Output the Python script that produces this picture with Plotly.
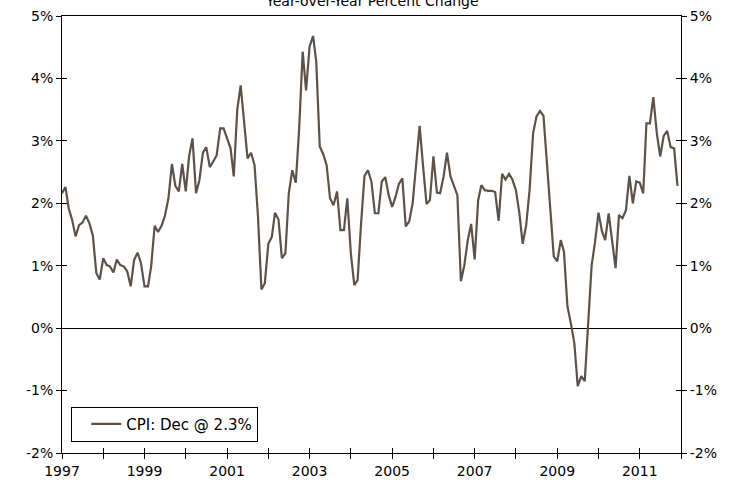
import pandas as pd
import plotly.graph_objects as go

# Monthly year-over-year CPI change (%), Jan 1997 .. Dec 2011
start_month = "1997-01-01"
cpi_yoy = [
    2.16, 2.26, 1.92, 1.73, 1.47, 1.65, 1.69, 1.80, 1.68, 1.48, 0.88, 0.78,   # 1997
    1.12, 1.01, 0.99, 0.89, 1.10, 1.01, 0.99, 0.91, 0.67, 1.09, 1.21, 1.04,   # 1998
    0.67, 0.67, 0.99, 1.64, 1.54, 1.64, 1.80, 2.08, 2.63, 2.28, 2.19, 2.63,   # 1999
    2.19, 2.77, 3.04, 2.16, 2.37, 2.81, 2.90, 2.58, 2.67, 2.77, 3.20, 3.20,   # 2000
    3.04, 2.88, 2.43, 3.50, 3.89, 3.30, 2.72, 2.81, 2.61, 1.80, 0.62, 0.72,   # 2001
    1.35, 1.46, 1.85, 1.74, 1.12, 1.20, 2.16, 2.53, 2.33, 3.20, 4.43, 3.81,   # 2002
    4.51, 4.68, 4.27, 2.91, 2.79, 2.61, 2.08, 1.97, 2.19, 1.57, 1.57, 2.08,   # 2003
    1.20, 0.69, 0.77, 1.68, 2.44, 2.53, 2.35, 1.84, 1.84, 2.35, 2.42, 2.13,   # 2004
    1.94, 2.11, 2.31, 2.40, 1.63, 1.71, 2.00, 2.62, 3.24, 2.60, 1.99, 2.05,   # 2005
    2.75, 2.17, 2.16, 2.43, 2.81, 2.43, 2.29, 2.13, 0.75, 1.00, 1.41, 1.67,   # 2006
    1.10, 2.05, 2.29, 2.21, 2.20, 2.20, 2.18, 1.72, 2.47, 2.38, 2.47, 2.38,   # 2007
    2.21, 1.84, 1.35, 1.65, 2.21, 3.12, 3.39, 3.48, 3.40, 2.60, 1.95, 1.15,   # 2008
    1.07, 1.41, 1.23, 0.35, 0.08, -0.24, -0.93, -0.77, -0.85, 0.08, 1.00, 1.38,  # 2009
    1.85, 1.55, 1.41, 1.84, 1.41, 0.96, 1.81, 1.76, 1.89, 2.44, 2.00, 2.35,   # 2010
    2.33, 2.16, 3.28, 3.28, 3.70, 3.12, 2.75, 3.08, 3.16, 2.90, 2.88, 2.28,   # 2011
]
series_name = "CPI: Dec @ 2.3%"
chart_title = "Year-over-Year Percent Change"
x_range = ["1997-01-01", "2012-01-01"]
y_range = [-2, 5]
y_tick_values = [-2, -1, 0, 1, 2, 3, 4, 5]
y_tick_labels = ["-2%", "-1%", "0%", "1%", "2%", "3%", "4%", "5%"]

months = pd.date_range(start_month, periods=len(cpi_yoy), freq="MS")

LINE = "#5E5246"
FONT = dict(family="DejaVu Sans, Verdana, sans-serif", size=14, color="black")
LEGEND_FONT = dict(family="DejaVu Sans, Verdana, sans-serif", size=15, color="black")

fig = go.Figure()
# invisible companions so the overlay axes (crossing ticks, right labels) are drawn
for xa, ya in [("x2", "y2"), ("x", "y3"), ("x", "y4")]:
    fig.add_trace(go.Scatter(x=months, y=cpi_yoy, mode="lines", showlegend=False,
                             hoverinfo="skip", line=dict(color="rgba(0,0,0,0)", width=0),
                             xaxis=xa, yaxis=ya))
fig.add_trace(go.Scatter(x=months, y=cpi_yoy, mode="lines", name=series_name,
                         line=dict(color=LINE, width=2.2), xaxis="x", yaxis="y"))

common_y = dict(range=y_range, tickmode="array", tickvals=y_tick_values,
                ticktext=y_tick_labels, showgrid=False, automargin=False,
                ticklen=5, tickcolor="black", tickwidth=1, tickfont=FONT, fixedrange=True)

fig.update_layout(
    width=739, height=485,
    margin=dict(l=62, r=58, t=16, b=32, autoexpand=False),
    paper_bgcolor="white", plot_bgcolor="white",
    font=FONT,
    showlegend=True,
    legend=dict(x=0.015, y=0.106, xanchor="left", yanchor="top",
                bgcolor="white", bordercolor="black", borderwidth=1,
                font=LEGEND_FONT, indentation=14),
    xaxis=dict(type="date", range=x_range, tick0="1997-01-01", dtick="M24",
               tickformat="%Y", ticks="outside", ticklen=5, tickcolor="black",
               minor=dict(dtick="M12", ticks="outside", ticklen=5, tickcolor="black"),
               showline=True, linecolor="black", linewidth=1, mirror=True,
               showgrid=False, tickfont=FONT, fixedrange=True, automargin=False),
    xaxis2=dict(type="date", range=x_range, overlaying="x", side="bottom",
                tick0="1997-01-01", dtick="M24", ticks="inside", ticklen=5,
                tickcolor="black",
                minor=dict(dtick="M12", ticks="inside", ticklen=5, tickcolor="black"),
                showticklabels=False, showline=False, showgrid=False,
                fixedrange=True, automargin=False),
    yaxis=dict(side="left", ticks="outside", showline=True, linecolor="black",
               linewidth=1, zeroline=True, zerolinecolor="black", zerolinewidth=1.3,
               **common_y),
    yaxis2=dict(side="right", overlaying="y", ticks="outside", showline=True,
                linecolor="black", linewidth=1, zeroline=False, anchor="x2", **common_y),
    yaxis3=dict(side="left", overlaying="y", ticks="inside", showticklabels=False,
                showline=False, zeroline=False, **common_y),
    yaxis4=dict(side="right", overlaying="y", ticks="inside", showticklabels=False,
                showline=False, zeroline=False, **common_y),
    annotations=[dict(text=chart_title, x=0.5, y=1, xref="paper", yref="paper",
                      xanchor="center", yanchor="bottom", yshift=5, showarrow=False,
                      font=FONT)],
)

fig.write_html("out.html", config={"displayModeBar": False},
               post_script="document.body.style.margin='0';document.body.style.overflow='hidden';")
